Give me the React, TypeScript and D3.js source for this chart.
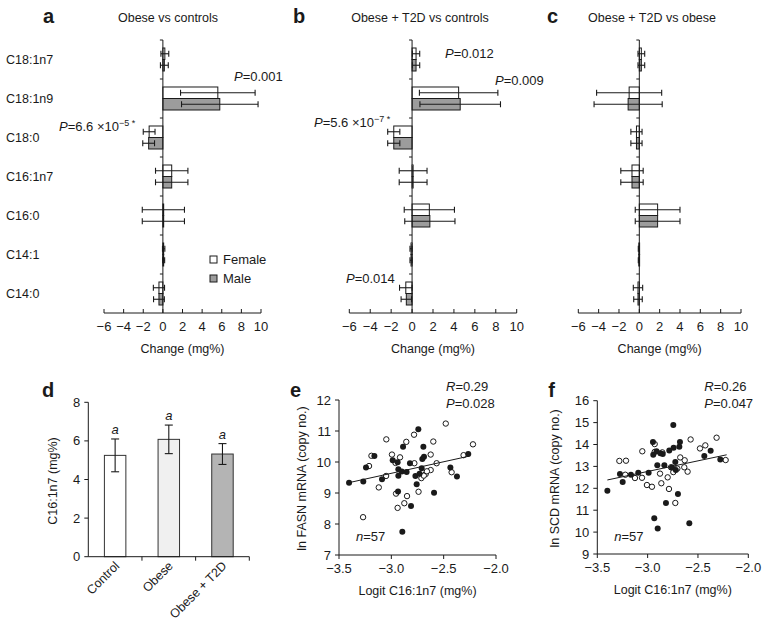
import React from "react";
import * as d3 from "d3";

// ---------- DATA ----------
const categories = ["C18:1n7", "C18:1n9", "C18:0", "C16:1n7", "C16:0", "C14:1", "C14:0"];
const sexes = ["Female", "Male"];

const aFemale = [0.2, 5.6, -1.4, 0.9, 0.05, 0.08, -0.4];
const aFemaleErr = [0.4, 3.8, 0.6, 1.65, 2.15, 0.12, 0.57];
const aMale = [0.15, 5.8, -1.45, 0.9, 0.05, 0.08, -0.4];
const aMaleErr = [0.4, 3.9, 0.6, 1.65, 2.15, 0.1, 0.55];

const bFemale = [0.38, 4.45, -1.75, 0.1, 1.65, -0.1, -0.6];
const bFemaleErr = [0.35, 3.75, 0.58, 1.33, 2.4, 0.1, 0.6];
const bMale = [0.38, 4.6, -1.75, 0.1, 1.7, -0.1, -0.55];
const bMaleErr = [0.35, 3.85, 0.58, 1.33, 2.4, 0.1, 0.5];

const cFemale = [0.2, -1.0, -0.28, -0.72, 1.8, -0.05, -0.13];
const cFemaleErr = [0.33, 3.2, 0.55, 1.1, 2.2, 0.05, 0.46];
const cMale = [0.2, -1.1, -0.28, -0.72, 1.8, -0.05, -0.13];
const cMaleErr = [0.33, 3.35, 0.55, 1.1, 2.2, 0.05, 0.42];

const changeTicks = [-6, -4, -2, 0, 2, 4, 6, 8, 10];

const dGroups = ["Control", "Obese", "Obese + T2D"];
const dMeans = [5.25, 6.08, 5.32];
const dErrs = [0.85, 0.74, 0.54];
const dLetters = ["a", "a", "a"];
const dFills = ["#ffffff", "#f0f0f0", "#b4b4b4"];
const dTicks = [0, 2, 4, 6, 8];

const logitTicks = [-3.5, -3.0, -2.5, -2.0];

const eOpen: [number, number][] = [
  [-3.27, 8.22], [-3.213, 9.87], [-3.19, 10.2], [-3.12, 9.18], [-3.05, 9.55], [-3.048, 10.73],
  [-2.994, 10.24], [-2.955, 8.98], [-2.94, 8.52], [-2.917, 10.15], [-2.876, 8.67], [-2.857, 10.65],
  [-2.85, 8.9], [-2.783, 10.88], [-2.78, 9.96], [-2.74, 9.04], [-2.713, 9.48], [-2.672, 9.61],
  [-2.624, 9.74], [-2.624, 10.24], [-2.599, 10.66], [-2.567, 9.96], [-2.48, 11.24], [-2.424, 9.67],
  [-2.31, 10.22], [-2.22, 10.57], [-2.96, 9.97], [-2.69, 9.56], [-2.66, 9.7],
];
const eFilled: [number, number][] = [
  [-3.404, 9.33], [-3.268, 9.37], [-3.242, 9.82], [-3.162, 10.19], [-3.089, 9.44], [-2.987, 10.06],
  [-2.94, 9.99], [-2.933, 9.77], [-2.933, 9.56], [-2.936, 9.05], [-2.888, 10.49], [-2.895, 7.75],
  [-2.9, 9.69], [-2.854, 9.68], [-2.822, 9.96], [-2.812, 8.58], [-2.742, 11.06], [-2.694, 10.49],
  [-2.704, 10.1], [-2.688, 10.17], [-2.758, 9.28], [-2.71, 9.8], [-2.77, 9.55], [-2.592, 9.01],
  [-2.436, 9.82], [-2.373, 9.53], [-2.265, 10.26], [-2.73, 9.62],
];
const eLineX = [-3.41, -2.255];
const eLineY = [9.33, 10.19];

const fOpen: [number, number][] = [
  [-3.281, 13.25], [-3.215, 13.26], [-3.222, 12.62], [-3.126, 12.47], [-3.056, 12.48], [-3.053, 13.69],
  [-3.007, 12.15], [-2.957, 12.07], [-2.93, 14.02], [-2.93, 13.66], [-2.877, 12.67], [-2.864, 12.23],
  [-2.854, 13.64], [-2.801, 12.5], [-2.788, 11.97], [-2.768, 12.96], [-2.725, 11.33], [-2.745, 12.74],
  [-2.705, 12.9], [-2.676, 13.41], [-2.632, 13.28], [-2.636, 12.96], [-2.603, 12.76], [-2.573, 14.23],
  [-2.48, 13.82], [-2.427, 13.96], [-2.315, 14.31], [-2.225, 13.29],
];
const fFilled: [number, number][] = [
  [-3.4, 11.89], [-3.275, 12.65], [-3.248, 12.29], [-3.166, 12.62], [-3.093, 12.71], [-2.99, 12.71],
  [-2.947, 14.11], [-2.944, 13.53], [-2.934, 10.63], [-2.9, 10.17], [-2.904, 13.05], [-2.911, 13.69],
  [-2.874, 13.6], [-2.85, 13.57], [-2.834, 13.05], [-2.818, 11.33], [-2.785, 13.73], [-2.758, 12.95],
  [-2.745, 14.89], [-2.742, 13.85], [-2.725, 13.2], [-2.72, 12.83], [-2.699, 11.74], [-2.685, 13.9],
  [-2.679, 14.11], [-2.586, 10.4], [-2.437, 13.47], [-2.374, 13.72], [-2.278, 13.32],
];
const fLineX = [-3.4, -2.215];
const fLineY = [12.38, 13.53];

// ---------- STYLE ----------
const FONT = "'Liberation Sans', Arial, Helvetica, sans-serif";
const INK = "#1a1a1a";
const MALE_FILL = "#9c9c9c";

const fmtMinus = (v: number, digits = 0) =>
  (v < 0 ? "\u2212" : "") + Math.abs(v).toFixed(digits);

// ---------- PANELS ----------
type HProps = {
  x0: number; x1: number;
  female: number[]; femaleErr: number[]; male: number[]; maleErr: number[];
  letter: string; letterX: number; title: string; titleX: number;
  showCats?: boolean; showLegend?: boolean;
  children?: React.ReactNode;
};

function HBarPanel(p: HProps) {
  const top = 40, bottom = 313;
  const x = d3.scaleLinear().domain([-6, 10]).range([p.x0, p.x1]);
  const y = d3.scaleBand<string>().domain(categories).range([top, bottom]).paddingInner(0.41).paddingOuter(0.205);
  const ys = d3.scaleBand<string>().domain(sexes).range([0, y.bandwidth()]);
  const step = y.step();
  const boundaries = d3.range(1, categories.length).map((i) => top + i * step);
  const series = [
    { key: "Female", vals: p.female, errs: p.femaleErr, fill: "#ffffff" },
    { key: "Male", vals: p.male, errs: p.maleErr, fill: MALE_FILL },
  ];
  const zx = x(0);
  return (
    <g>
      <text x={p.letterX} y={23} fontSize={20} fontWeight="bold" fontFamily={FONT} fill={INK}>{p.letter}</text>
      <text x={p.titleX} y={22} fontSize={12.5} textAnchor="middle" fontFamily={FONT} fill={INK}>{p.title}</text>
      {p.showCats && categories.map((c) => (
        <text key={c} x={6} y={(y(c) as number) + y.bandwidth() / 2 + 4.5} fontSize={12.5} fontFamily={FONT} fill={INK}>{c}</text>
      ))}
      {series.map((s) =>
        categories.map((c, i) => {
          const yy = (y(c) as number) + (ys(s.key) as number);
          const h = ys.bandwidth();
          const v = s.vals[i];
          const e = s.errs[i];
          const cy = yy + h / 2;
          return (
            <g key={s.key + c}>
              <rect x={Math.min(x(0), x(v))} y={yy} width={Math.max(0.8, Math.abs(x(v) - x(0)))} height={h}
                fill={s.fill} stroke={INK} strokeWidth={1} />
              <line x1={x(v - e)} x2={x(v + e)} y1={cy} y2={cy} stroke={INK} strokeWidth={1.1} />
              <line x1={x(v - e)} x2={x(v - e)} y1={cy - 3} y2={cy + 3} stroke={INK} strokeWidth={1.1} />
              <line x1={x(v + e)} x2={x(v + e)} y1={cy - 3} y2={cy + 3} stroke={INK} strokeWidth={1.1} />
            </g>
          );
        })
      )}
      {/* zero axis */}
      <line x1={zx} x2={zx} y1={top} y2={bottom} stroke={INK} strokeWidth={1} />
      <line x1={zx - 3} x2={zx} y1={top} y2={top} stroke={INK} strokeWidth={1} />
      {boundaries.map((b) => (
        <line key={b} x1={zx - 3} x2={zx} y1={b} y2={b} stroke={INK} strokeWidth={1} />
      ))}
      {/* x axis */}
      <line x1={x(-6)} x2={x(10)} y1={bottom} y2={bottom} stroke={INK} strokeWidth={1} />
      {changeTicks.map((t) => (
        <g key={t}>
          <line x1={x(t)} x2={x(t)} y1={bottom - 4} y2={bottom} stroke={INK} strokeWidth={1} />
          <text x={x(t)} y={bottom + 18} fontSize={13} textAnchor="middle" fontFamily={FONT} fill={INK}>{fmtMinus(t)}</text>
        </g>
      ))}
      <text x={(x(-6) + x(10)) / 2} y={bottom + 40} fontSize={12.5} textAnchor="middle" fontFamily={FONT} fill={INK}>Change (mg%)</text>
      {p.showLegend && (
        <g fontFamily={FONT} fontSize={13} fill={INK}>
          <rect x={210} y={256} width={7} height={7} fill="#fff" stroke={INK} />
          <text x={223} y={264}>Female</text>
          <rect x={210} y={275} width={7} height={7} fill={MALE_FILL} stroke={INK} />
          <text x={223} y={283}>Male</text>
        </g>
      )}
      {p.children}
    </g>
  );
}

function PText({ x, y, val, sup }: { x: number; y: number; val: string; sup?: string }) {
  return (
    <text x={x} y={y} fontSize={13} fontFamily={FONT} fill={INK}>
      <tspan fontStyle="italic">P</tspan>
      <tspan>{"=" + val}</tspan>
      {sup && <tspan dy={-5} fontSize={9}>{sup}</tspan>}
    </text>
  );
}

function BarPanelD() {
  const left = 88.3, right = 249.3, top = 402.3, bottom = 556.7;
  const y = d3.scaleLinear().domain([0, 8]).range([bottom, top]);
  const x = d3.scaleBand<string>().domain(dGroups).range([left, right]).paddingInner(0.6).paddingOuter(0.3);
  const step = x.step();
  return (
    <g fontFamily={FONT} fill={INK}>
      <text x={42} y={397} fontSize={20} fontWeight="bold">d</text>
      {dGroups.map((g, i) => {
        const bx = x(g) as number;
        const cx = bx + x.bandwidth() / 2;
        const m = dMeans[i], e = dErrs[i];
        return (
          <g key={g}>
            <rect x={bx} y={y(m)} width={x.bandwidth()} height={bottom - y(m)} fill={dFills[i]} stroke="#333" strokeWidth={1} />
            <line x1={cx} x2={cx} y1={y(m - e)} y2={y(m + e)} stroke={INK} strokeWidth={1.1} />
            <line x1={cx - 4} x2={cx + 4} y1={y(m - e)} y2={y(m - e)} stroke={INK} strokeWidth={1.1} />
            <line x1={cx - 4} x2={cx + 4} y1={y(m + e)} y2={y(m + e)} stroke={INK} strokeWidth={1.1} />
            <text x={cx} y={y(m + e) - 5} fontSize={13} fontStyle="italic" textAnchor="middle">{dLetters[i]}</text>
            <text transform={`translate(${cx + 5},${bottom + 10}) rotate(-45)`} fontSize={12.5} textAnchor="end">{g}</text>
          </g>
        );
      })}
      <line x1={left} x2={left} y1={top} y2={bottom} stroke={INK} />
      {dTicks.map((t) => (
        <g key={t}>
          <line x1={left - 4} x2={left} y1={y(t)} y2={y(t)} stroke={INK} />
          <text x={left - 8} y={y(t) + 4.5} fontSize={13} textAnchor="end">{t}</text>
        </g>
      ))}
      <line x1={left} x2={right} y1={bottom} y2={bottom} stroke={INK} />
      {[1, 2, 3].map((k) => (
        <line key={k} x1={left + step * k - (k === 3 ? step * 0 : 0)} x2={left + step * k} y1={bottom} y2={bottom + 4} stroke={INK} />
      ))}
      <text transform={`translate(57,481) rotate(-90)`} fontSize={12.5} textAnchor="middle">C16:1n7 (mg%)</text>
    </g>
  );
}

type SProps = {
  left: number; right: number; top: number; bottom: number;
  yDomain: [number, number]; yTicks: number[];
  open: [number, number][]; filled: [number, number][];
  lineX: number[]; lineY: number[];
  letter: string; yLabel: string; r: string; pval: string;
  yLabelX: number;
};

function ScatterPanel(p: SProps) {
  const x = d3.scaleLinear().domain([-3.5, -2.0]).range([p.left, p.right]);
  const y = d3.scaleLinear().domain(p.yDomain).range([p.bottom, p.top]);
  const line = d3.line<number>().x((_, i) => x(p.lineX[i])).y((_, i) => y(p.lineY[i]));
  return (
    <g fontFamily={FONT} fill={INK}>
      <text x={p.left - 49} y={397} fontSize={20} fontWeight="bold">{p.letter}</text>
      <line x1={p.left} x2={p.left} y1={p.top} y2={p.bottom} stroke={INK} />
      {p.yTicks.map((t) => (
        <g key={t}>
          <line x1={p.left - 4} x2={p.left} y1={y(t)} y2={y(t)} stroke={INK} />
          <text x={p.left - 8} y={y(t) + 4.5} fontSize={13} textAnchor="end">{t}</text>
        </g>
      ))}
      <line x1={p.left} x2={p.right} y1={p.bottom} y2={p.bottom} stroke={INK} />
      {logitTicks.map((t) => (
        <g key={t}>
          <line x1={x(t)} x2={x(t)} y1={p.bottom} y2={p.bottom + 4} stroke={INK} />
          <text x={x(t)} y={p.bottom + 18} fontSize={13} textAnchor="middle">{fmtMinus(t, 1)}</text>
        </g>
      ))}
      <text x={(p.left + p.right) / 2} y={p.bottom + 40} fontSize={12.5} textAnchor="middle">Logit C16:1n7 (mg%)</text>
      <text transform={`translate(${p.yLabelX},${(p.top + p.bottom) / 2 + 1}) rotate(-90)`} fontSize={12.5} textAnchor="middle">{p.yLabel}</text>
      {p.open.map((d, i) => (
        <circle key={"o" + i} cx={x(d[0])} cy={y(d[1])} r={2.7} fill="#fff" stroke={INK} strokeWidth={1} />
      ))}
      {p.filled.map((d, i) => (
        <circle key={"f" + i} cx={x(d[0])} cy={y(d[1])} r={3} fill={INK} stroke="none" />
      ))}
      <path d={line(p.lineX) || ""} stroke={INK} strokeWidth={1} fill="none" />
      <text x={p.left + 107} y={391} fontSize={13}>
        <tspan fontStyle="italic">R</tspan><tspan>{"=" + p.r}</tspan>
      </text>
      <text x={p.left + 107} y={408} fontSize={13}>
        <tspan fontStyle="italic">P</tspan><tspan>{"=" + p.pval}</tspan>
      </text>
      <text x={p.left + 17} y={541} fontSize={13}>
        <tspan fontStyle="italic">n</tspan><tspan>=57</tspan>
      </text>
    </g>
  );
}

export default function App() {
  return (
    <svg width={766} height={626} viewBox="0 0 766 626"
      style={{ position: "absolute", left: 0, top: 0, background: "#fff" }}>
      <rect x={0} y={0} width={766} height={626} fill="#fff" />
      <HBarPanel x0={104} x1={261} female={aFemale} femaleErr={aFemaleErr} male={aMale} maleErr={aMaleErr}
        letter="a" letterX={43} title="Obese vs controls" titleX={168} showCats showLegend>
        <PText x={234} y={81} val="0.001" />
        <PText x={59} y={131} val={"6.6 \u00d710"} sup={"\u22125 *"} />
      </HBarPanel>
      <HBarPanel x0={349.3} x1={516.7} female={bFemale} femaleErr={bFemaleErr} male={bMale} maleErr={bMaleErr}
        letter="b" letterX={293} title="Obese + T2D vs controls" titleX={420}>
        <PText x={445} y={58} val="0.012" />
        <PText x={495} y={85} val="0.009" />
        <PText x={314} y={127} val={"5.6 \u00d710"} sup={"\u22127 *"} />
        <PText x={346} y={283} val="0.014" />
      </HBarPanel>
      <HBarPanel x0={578.3} x1={741} female={cFemale} femaleErr={cFemaleErr} male={cMale} maleErr={cMaleErr}
        letter="c" letterX={547} title="Obese + T2D vs obese" titleX={652} />
      <BarPanelD />
      <ScatterPanel left={339} right={496} top={400} bottom={555} yDomain={[7, 12]} yTicks={[7, 8, 9, 10, 11, 12]}
        open={eOpen} filled={eFilled} lineX={eLineX} lineY={eLineY} letter="e"
        yLabel="ln FASN mRNA (copy no.)" r="0.29" pval="0.028" yLabelX={306} />
      <ScatterPanel left={597.3} right={748.3} top={400.7} bottom={554} yDomain={[9, 16]} yTicks={[9, 10, 11, 12, 13, 14, 15, 16]}
        open={fOpen} filled={fFilled} lineX={fLineX} lineY={fLineY} letter="f"
        yLabel="ln SCD mRNA (copy no.)" r="0.26" pval="0.047" yLabelX={559} />
    </svg>
  );
}
